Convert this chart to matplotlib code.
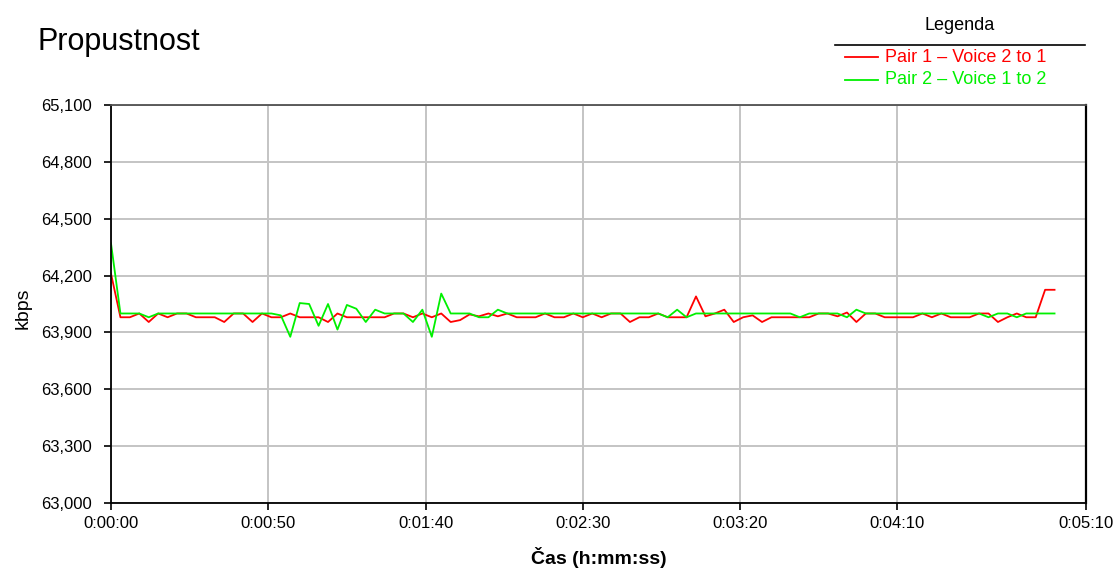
import numpy as np
import matplotlib
matplotlib.use('Agg')
import matplotlib.pyplot as plt
from matplotlib.lines import Line2D
from matplotlib.ticker import FuncFormatter

plt.rcParams['font.family'] = ['Liberation Sans', 'DejaVu Sans']

# vzorky po 3 s, 0..300 s
time_s = np.arange(0, 301, 3)

pair1_name = 'Pair 1 \u2013 Voice 2 to 1'
pair1_kbps = [
    64210, 63980, 63980, 64000, 63955, 64000, 63980, 64000, 64000, 63980,
    63980, 63980, 63955, 64000, 64000, 63955, 64000, 63980, 63980, 64000,
    63980, 63980, 63980, 63955, 64000, 63980, 63980, 63980, 63980, 63980,
    64000, 64000, 63980, 64000, 63980, 64000, 63955, 63965, 63995, 63985,
    64000, 63985, 64000, 63980, 63980, 63980, 64000, 63980, 63980, 64000,
    63980, 64000, 63980, 64000, 64000, 63955, 63980, 63980, 64000, 63980,
    63980, 63980, 64090, 63985, 64000, 64020, 63955, 63980, 63990, 63955,
    63980, 63980, 63980, 63980, 63980, 64000, 64000, 63985, 64005, 63955,
    64000, 64000, 63980, 63980, 63980, 63980, 64000, 63980, 64000, 63980,
    63980, 63980, 64000, 64000, 63955, 63980, 64000, 63980, 63980, 64125,
    64125,
]

pair2_name = 'Pair 2 \u2013 Voice 1 to 2'
pair2_kbps = [
    64370, 64000, 64000, 64000, 63980, 64000, 64000, 64000, 64000, 64000,
    64000, 64000, 64000, 64000, 64000, 64000, 64000, 64000, 63990, 63877,
    64055, 64050, 63935, 64050, 63915, 64045, 64025, 63955, 64020, 64000,
    64000, 64000, 63955, 64020, 63877, 64105, 64000, 64000, 64000, 63980,
    63980, 64020, 64000, 64000, 64000, 64000, 64000, 64000, 64000, 64000,
    64000, 64000, 64000, 64000, 64000, 64000, 64000, 64000, 64000, 63980,
    64020, 63980, 64000, 64000, 64000, 64000, 64000, 64000, 64000, 64000,
    64000, 64000, 64000, 63980, 64000, 64000, 64000, 64000, 63980, 64020,
    64000, 64000, 64000, 64000, 64000, 64000, 64000, 64000, 64000, 64000,
    64000, 64000, 64000, 63980, 64000, 64000, 63980, 64000, 64000, 64000,
    64000,
]

x_ticks = [0, 50, 100, 150, 200, 250, 310]
y_ticks = list(range(63000, 65101, 300))


def hms(s, pos=None):
    s = int(round(s))
    return '%d:%02d:%02d' % (s // 3600, (s % 3600) // 60, s % 60)


fig = plt.figure(figsize=(11.2, 5.72), dpi=100)
ax = fig.add_axes([111 / 1120, 1 - 503 / 572, (1086 - 111) / 1120, (503 - 105) / 572])

l1, = ax.plot(time_s, pair1_kbps, color='#ff0000', lw=1.3, label=pair1_name)
l2, = ax.plot(time_s, pair2_kbps, color='#00f000', lw=1.3, label=pair2_name)

ax.set_xlim(0, 310)
ax.set_ylim(63000, 65100)
ax.set_xticks(x_ticks)
ax.set_yticks(y_ticks)
ax.xaxis.set_major_formatter(FuncFormatter(hms))
ax.yaxis.set_major_formatter(FuncFormatter(lambda v, p: '{:,.0f}'.format(v)))
ax.tick_params(axis='both', labelsize=12, length=5, width=1.2, color='black')
ax.tick_params(axis='y', pad=9)
ax.tick_params(axis='x', pad=4)
ax.grid(True, color='#c4c4c4', lw=1.4)
ax.set_axisbelow(True)

for side in ['left', 'bottom']:
    ax.spines[side].set_color('black')
    ax.spines[side].set_linewidth(1.3)
ax.spines['top'].set_color('#505050')
ax.spines['top'].set_linewidth(1.3)
ax.spines['right'].set_color('black')
ax.spines['right'].set_linewidth(1.6)

ax.set_xlabel('\u010cas (h:mm:ss)', fontsize=14, fontweight='bold', labelpad=12)
ax.set_ylabel('kbps', fontsize=14)
ax.yaxis.set_label_coords((32 - 111) / 975, 0.49)

fig.text(37 / 1120, 1 - 42 / 572, 'Propustnost', fontsize=22, va='center', ha='left')

# legenda
fig.text(960 / 1120, 1 - 25 / 572, 'Legenda', fontsize=13, ha='center', va='center')
fig.add_artist(Line2D([835 / 1120, 1085 / 1120], [1 - 45 / 572, 1 - 45 / 572],
                      color='black', lw=1.2, transform=fig.transFigure))
for ln, yy in [(l1, 57), (l2, 80)]:
    fig.add_artist(Line2D([845 / 1120, 878 / 1120], [1 - yy / 572, 1 - yy / 572],
                          color=ln.get_color(), lw=1.3, transform=fig.transFigure))
    fig.text(885 / 1120, 1 - yy / 572, ln.get_label(), fontsize=13,
             color=ln.get_color(), ha='left', va='center')

fig.savefig('out.png', dpi=100, facecolor='white')
